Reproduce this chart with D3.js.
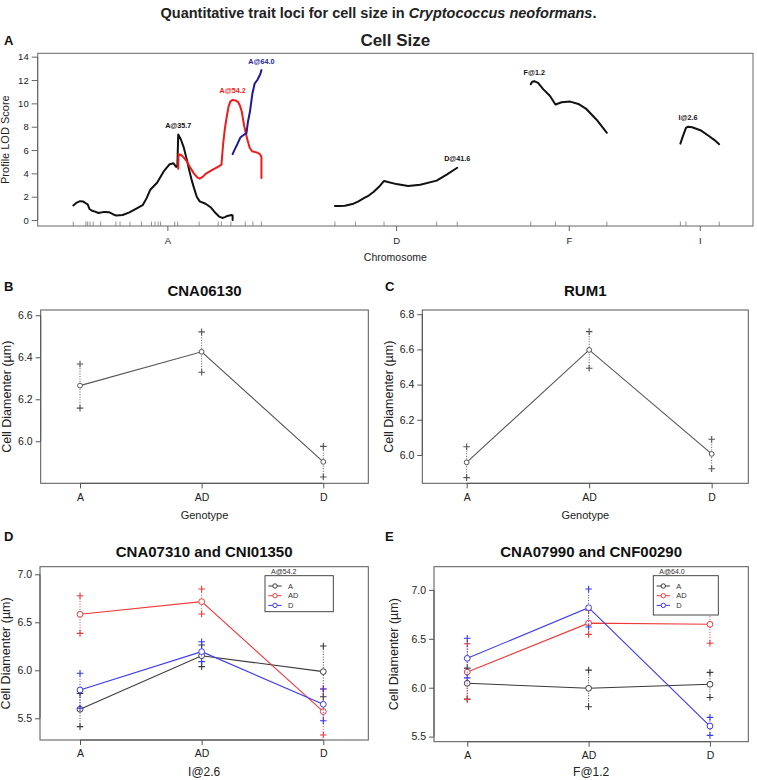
<!DOCTYPE html>
<html><head><meta charset="utf-8">
<script src="https://cdn.jsdelivr.net/npm/d3@7"></script>
<style>
body{margin:0;background:#fff}
text{font-family:"Liberation Sans",Arial,Helvetica,sans-serif;fill:#222}
</style>
</head><body>
<svg id="c" width="757" height="780"></svg>
<script>
// ---------------- DATA ----------------
// Panel A: chromosomes, marker positions (cM) and LOD profiles
const chromosomes = ["A", "D", "F", "I"];
const chromLengths = [64.0, 41.6, 25.9, 13.2];
const chromGap = 25;
const markersA = [0, 4.3, 4.9, 5.7, 6.8, 9.3, 14.5, 15.9, 19.3, 23.2, 26.6, 27.8, 28.9, 29.7, 34.5, 35.5, 42.8, 49.3, 50.4, 53.6, 58.5, 61.1, 64.0];
const markersD = [0, 7.0, 16.7, 34.6, 41.6];
const markersF = [0, 8.4, 25.9];
const markersI = [0, 1.9, 13.2];

const qtlNames = ["A@35.7", "A@54.2", "A@64.0", "D@41.6", "F@1.2", "I@2.6"];
const qtlChrom = ["A", "A", "A", "D", "F", "I"];
const qtlPos = [35.7, 54.2, 64.0, 41.6, 1.2, 2.6];

const profA357Pos = [0, 1.2, 2.3, 3.4, 4.2, 4.9, 5.5, 6.4, 7.4, 8.6, 10.5, 12.3, 13.5, 14.6, 16.8, 19.1, 21.6, 23.6, 25.0, 26.2, 28.5, 30.7, 32.0, 32.8, 34.1, 35.0, 35.4, 35.7, 36.6, 37.6, 38.6, 39.5, 40.3, 41.0, 42.0, 43.0, 45.0, 46.7, 48.4, 49.6, 50.7, 51.6, 52.4, 53.8, 54.2, 54.2];
const profA357Lod = [1.25, 1.5, 1.62, 1.58, 1.45, 1.35, 0.95, 0.8, 0.72, 0.6, 0.7, 0.66, 0.5, 0.38, 0.43, 0.66, 1.0, 1.27, 1.9, 2.6, 3.2, 4.14, 4.55, 4.78, 4.86, 4.55, 4.6, 7.33, 6.9, 6.2, 5.2, 4.2, 3.4, 2.8, 2.0, 1.6, 1.4, 1.1, 0.6, 0.3, 0.18, 0.25, 0.35, 0.43, 0.4, 0.0];

const profA542Pos = [35.7, 35.8, 36.8, 37.6, 38.7, 39.9, 41.0, 42.2, 43.0, 44.0, 45.0, 47.3, 49.5, 50.1, 50.4, 51.0, 51.6, 52.3, 52.8, 53.4, 54.2, 55.2, 56.1, 56.7, 57.3, 58.1, 59.2, 60.0, 60.8, 62.4, 63.5, 64.0, 64.0];
const profA542Lod = [4.4, 5.65, 5.55, 5.35, 5.0, 4.45, 4.0, 3.65, 3.55, 3.7, 3.95, 4.3, 4.6, 4.7, 4.75, 6.6, 7.9, 9.0, 9.7, 10.15, 10.3, 10.25, 10.1, 9.8, 9.3, 8.1, 6.9, 6.2, 5.9, 5.8, 5.65, 5.4, 3.6];

const profA640Pos = [54.2, 55.0, 55.8, 56.9, 58.3, 58.9, 59.4, 60.1, 60.9, 61.7, 62.6, 63.2, 63.6, 64.0];
const profA640Lod = [5.65, 6.1, 6.5, 7.1, 7.35, 7.45, 8.4, 9.3, 10.8, 11.7, 12.0, 12.3, 12.5, 12.85];

const profD416Pos = [0, 1.5, 3.4, 6.3, 8.0, 9.7, 11.5, 13.1, 15.0, 16.7, 20.9, 24.9, 29.0, 34.6, 38.0, 41.6];
const profD416Lod = [1.2, 1.2, 1.22, 1.4, 1.6, 1.85, 2.1, 2.4, 2.85, 3.35, 3.08, 2.92, 3.03, 3.38, 3.9, 4.48];

const profF12Pos = [0, 0.5, 1.2, 2.5, 4.3, 6.5, 8.4, 10.5, 13.4, 16.2, 19.0, 22.4, 25.9];
const profF12Lod = [11.65, 11.85, 11.9, 11.75, 11.2, 10.65, 9.9, 10.1, 10.15, 9.95, 9.5, 8.6, 7.48];

const profI26Pos = [0, 0.8, 1.9, 2.6, 4.0, 6.8, 9.7, 11.6, 13.2];
const profI26Lod = [6.55, 7.15, 7.9, 8.0, 7.95, 7.7, 7.2, 6.85, 6.5];

const lodTicks = [0, 2, 4, 6, 8, 10, 12, 14];

// Panels B-E: genotype effect plots
const genotypes = ["A", "AD", "D"];

const bMean = [6.265, 6.426, 5.902];
const bLow  = [6.158, 6.329, 5.830];
const bHigh = [6.368, 6.521, 5.976];
const bTicks = [6.0, 6.2, 6.4, 6.6];

const cMean = [5.958, 6.597, 6.006];
const cLow  = [5.871, 6.493, 5.922];
const cHigh = [6.047, 6.701, 6.089];
const cTicks = [6.0, 6.2, 6.4, 6.6, 6.8];

// Panel D (x: I@2.6, lines: A@54.2 genotype)
const dMeanA  = [5.594, 6.152, 5.986];
const dLowA   = [5.413, 6.038, 5.725];
const dHighA  = [5.760, 6.264, 6.253];
const dMeanAD = [6.583, 6.715, 5.570];
const dLowAD  = [6.385, 6.586, 5.326];
const dHighAD = [6.777, 6.847, 5.805];
const dMeanD  = [5.795, 6.194, 5.646];
const dLowD   = [5.604, 6.090, 5.475];
const dHighD  = [5.969, 6.298, 5.805];
const dTicks = [5.5, 6.0, 6.5, 7.0];

// Panel E (x: F@1.2, lines: A@64.0 genotype)
const eMeanA  = [6.045, 5.994, 6.035];
const eLowA   = [5.885, 5.806, 5.900];
const eHighA  = [6.200, 6.180, 6.157];
const eMeanAD = [6.160, 6.660, 6.648];
const eLowAD  = [5.880, 6.545, 6.454];
const eHighAD = [6.450, 6.790, 6.846];
const eMeanD  = [6.300, 6.818, 5.608];
const eLowD   = [6.100, 6.620, 5.513];
const eHighD  = [6.505, 7.009, 5.697];
const eTicks = [5.5, 6.0, 6.5, 7.0];

const seriesNames = ["A", "AD", "D"];
const seriesColors = ["#3a3a3a", "#ee3a3a", "#3a3aee"];

// ---------------- DRAWING ----------------
const svg = d3.select("#c");
const FONT = '"Liberation Sans", Arial, Helvetica, sans-serif';

// Figure title
svg.append("text").attr("x", 378.5).attr("y", 18).attr("text-anchor", "middle")
  .style("font-size", "14.5px").style("font-weight", "bold")
  .call(t => {
    t.append("tspan").text("Quantitative trait loci for cell size in ");
    t.append("tspan").style("font-style", "italic").text("Cryptococcus neoformans");
    t.append("tspan").text(".");
  });

function panelLetter(l, x, y) {
  svg.append("text").attr("x", x).attr("y", y).text(l)
    .style("font-size", "13px").style("font-weight", "bold").style("fill", "#111");
}

// ---------- Panel A ----------
(function () {
  const box = {x0: 37.7, x1: 753, y0: 53.3, y1: 226};
  const g = svg.append("g");
  panelLetter("A", 4, 45);
  g.append("text").attr("x", (box.x0 + box.x1) / 2).attr("y", 46).attr("text-anchor", "middle")
    .style("font-size", "17px").style("font-weight", "bold").text("Cell Size");

  const offsets = {};
  let acc = 0;
  chromosomes.forEach((c, i) => { offsets[c] = acc; acc += chromLengths[i] + chromGap; });
  const total = acc - chromGap;
  const x = d3.scaleLinear().domain([-12.1, total + 11.5]).range([box.x0, box.x1]);
  const y = d3.scaleLinear().domain([-0.51, 14.29]).range([box.y1, box.y0]);

  // box
  g.append("rect").attr("x", box.x0).attr("y", box.y0).attr("width", box.x1 - box.x0).attr("height", box.y1 - box.y0)
    .attr("fill", "none").attr("stroke", "#666").attr("stroke-width", 1);

  // y axis
  const yAxis = d3.axisLeft(y).tickValues(lodTicks).tickSize(6).tickPadding(3).tickFormat(d3.format("d"));
  const ya = g.append("g").attr("transform", `translate(${box.x0},0)`).call(yAxis);
  ya.select(".domain").attr("stroke", "#666").attr("d", `M-0,${y(0)}V${y(14)}`);
  ya.selectAll(".tick line").attr("stroke", "#666");
  ya.selectAll(".tick text").style("font-size", "9.5px").style("font-family", FONT).attr("fill", "#222");
  g.append("text").attr("transform", `translate(9,${(box.y0 + box.y1) / 2}) rotate(-90)`)
    .attr("text-anchor", "middle").style("font-size", "11px").text("Profile LOD Score");

  // chromosome ticks & labels
  const chromMid = chromosomes.map((c, i) => offsets[c] + chromLengths[i] / 2);
  const xAxis = d3.axisBottom(x).tickValues(chromMid).tickSize(5).tickPadding(6)
    .tickFormat((d, i) => chromosomes[i]);
  const xa = g.append("g").attr("transform", `translate(0,${box.y1})`).call(xAxis);
  xa.select(".domain").remove();
  xa.selectAll(".tick line").attr("stroke", "#666");
  xa.selectAll(".tick text").style("font-size", "9.5px").style("font-family", FONT).attr("fill", "#222");
  g.append("text").attr("x", (box.x0 + box.x1) / 2).attr("y", 261).attr("text-anchor", "middle")
    .style("font-size", "10.5px").text("Chromosome");

  // marker rug
  const markers = {A: markersA, D: markersD, F: markersF, I: markersI};
  chromosomes.forEach(c => {
    g.append("g").selectAll("line").data(markers[c]).join("line")
      .attr("x1", d => x(offsets[c] + d)).attr("x2", d => x(offsets[c] + d))
      .attr("y1", box.y1).attr("y2", box.y1 - 4.5)
      .attr("stroke", "#777").attr("stroke-width", 0.8);
  });

  // profiles
  const profiles = [
    {chr: "A", pos: profA357Pos, lod: profA357Lod, color: "#111", qi: 0},
    {chr: "A", pos: profA542Pos, lod: profA542Lod, color: "#ee1c1c", qi: 1},
    {chr: "A", pos: profA640Pos, lod: profA640Lod, color: "#1c1c95", qi: 2},
    {chr: "D", pos: profD416Pos, lod: profD416Lod, color: "#111", qi: 3},
    {chr: "F", pos: profF12Pos, lod: profF12Lod, color: "#111", qi: 4},
    {chr: "I", pos: profI26Pos, lod: profI26Lod, color: "#111", qi: 5}
  ];
  const line = d3.line().x(d => x(d[0])).y(d => y(d[1])).curve(d3.curveLinear);
  profiles.forEach(p => {
    const pts = p.pos.map((v, i) => [offsets[p.chr] + v, p.lod[i]]);
    g.append("path").attr("d", line(pts)).attr("fill", "none").attr("stroke", p.color)
      .attr("stroke-width", 2).attr("stroke-linejoin", "round").attr("stroke-linecap", "round");
    const maxLod = d3.max(p.lod);
    g.append("text").attr("x", x(offsets[qtlChrom[p.qi]] + qtlPos[p.qi])).attr("y", y(maxLod) - 6.5)
      .attr("text-anchor", "middle").style("font-size", "7.2px").style("font-weight", "bold")
      .style("fill", p.color).text(qtlNames[p.qi]);
  });
})();

// ---------- Effect panels ----------
function effectPanel(cfg) {
  const g = svg.append("g");
  const b = cfg.box;
  panelLetter(cfg.letter, cfg.letterX, cfg.letterY);
  g.append("text").attr("x", (b.x0 + b.x1) / 2).attr("y", cfg.titleY).attr("text-anchor", "middle")
    .style("font-size", "15px").style("font-weight", "bold").style("fill", "#111").text(cfg.title);

  const x = d3.scaleLinear().domain(cfg.xDomain).range([b.x0, b.x1]);
  const y = d3.scaleLinear().domain(cfg.yDomain).range([b.y1, b.y0]);

  g.append("rect").attr("x", b.x0).attr("y", b.y0).attr("width", b.x1 - b.x0).attr("height", b.y1 - b.y0)
    .attr("fill", "none").attr("stroke", "#555").attr("stroke-width", 1);

  const ya = g.append("g").attr("transform", `translate(${b.x0},0)`)
    .call(d3.axisLeft(y).tickValues(cfg.yTicks).tickSize(5).tickPadding(3).tickFormat(d3.format(".1f")));
  ya.select(".domain").attr("d", `M0,${y(cfg.yTicks[0])}V${y(cfg.yTicks[cfg.yTicks.length - 1])}`).attr("stroke", "#555");
  ya.selectAll(".tick line").attr("stroke", "#555");
  ya.selectAll(".tick text").style("font-size", "10.5px").style("font-family", FONT).attr("fill", "#222");

  const xa = g.append("g").attr("transform", `translate(0,${b.y1})`)
    .call(d3.axisBottom(x).tickValues([1, 2, 3]).tickSize(5).tickPadding(5).tickFormat((d, i) => genotypes[i]));
  xa.select(".domain").attr("d", `M${x(1)},0H${x(3)}`).attr("stroke", "#555");
  xa.selectAll(".tick line").attr("stroke", "#555");
  xa.selectAll(".tick text").style("font-size", "10.5px").style("font-family", FONT).attr("fill", "#222");

  g.append("text").attr("x", (b.x0 + b.x1) / 2).attr("y", cfg.xlabY).attr("text-anchor", "middle")
    .style("font-size", cfg.xlabSize || "11px").text(cfg.xlab);
  g.append("text").attr("transform", `translate(${cfg.ylabX},${(b.y0 + b.y1) / 2}) rotate(-90)`)
    .attr("text-anchor", "middle").attr("dy", "0.35em").style("font-size", "12.5px").text("Cell Diamenter (\u00b5m)");

  cfg.series.forEach(s => {
    const sg = g.append("g");
    // error bars (dotted)
    sg.selectAll("line.err").data(s.mean).join("line").attr("class", "err")
      .attr("x1", (d, i) => x(i + 1)).attr("x2", (d, i) => x(i + 1))
      .attr("y1", (d, i) => y(s.low[i])).attr("y2", (d, i) => y(s.high[i]))
      .attr("stroke", s.color).attr("stroke-width", 1).attr("stroke-dasharray", "1,1.6");
    // connecting line
    sg.append("path").attr("d", d3.line().x((d, i) => x(i + 1)).y(d => y(d))(s.mean))
      .attr("fill", "none").attr("stroke", s.color).attr("stroke-width", 1.1);
    // crosses
    const crosses = [];
    s.mean.forEach((d, i) => { crosses.push([i + 1, s.low[i]]); crosses.push([i + 1, s.high[i]]); });
    sg.selectAll("path.cross").data(crosses).join("path").attr("class", "cross")
      .attr("d", d => `M${x(d[0]) - 3.3},${y(d[1])}h6.6M${x(d[0])},${y(d[1]) - 3.3}v6.6`)
      .attr("stroke", s.color).attr("stroke-width", 1.1).attr("fill", "none");
    // points
    sg.selectAll("circle").data(s.mean).join("circle")
      .attr("cx", (d, i) => x(i + 1)).attr("cy", d => y(d)).attr("r", cfg.r)
      .attr("fill", "#fff").attr("stroke", s.color).attr("stroke-width", 1);
  });

  if (cfg.legend) {
    const L = cfg.legend;
    g.append("rect").attr("x", L.x0).attr("y", L.y0).attr("width", L.x1 - L.x0).attr("height", L.y1 - L.y0)
      .attr("fill", "#fff").attr("stroke", "#333").attr("stroke-width", 0.9);
    g.append("text").attr("x", L.x0 + 6).attr("y", L.y0 - 2).style("font-size", "7px").style("fill", "#333").text(L.title);
    seriesNames.forEach((n, i) => {
      const yy = L.y0 + 10.3 + i * 9.7;
      g.append("line").attr("x1", L.x0 + 3.3).attr("x2", L.x0 + 16.7).attr("y1", yy).attr("y2", yy)
        .attr("stroke", seriesColors[i]).attr("stroke-width", 1);
      g.append("circle").attr("cx", L.x0 + 10).attr("cy", yy).attr("r", 2.2).attr("fill", "#fff")
        .attr("stroke", seriesColors[i]).attr("stroke-width", 1);
      g.append("text").attr("x", L.x0 + 23).attr("y", yy).attr("dy", "0.35em").style("font-size", "7.5px").style("fill", "#333").text(n);
    });
  }
}

effectPanel({
  letter: "B", letterX: 4, letterY: 291, title: "CNA06130", titleY: 296,
  box: {x0: 40.7, x1: 368.3, y0: 310, y1: 483.3}, xDomain: [0.677, 3.37], yDomain: [5.80, 6.625],
  yTicks: bTicks, xlab: "Genotype", xlabY: 519, ylabX: 7, r: 2.4,
  series: [{mean: bMean, low: bLow, high: bHigh, color: "#555"}]
});
effectPanel({
  letter: "C", letterX: 385, letterY: 291, title: "RUM1", titleY: 296,
  box: {x0: 422.3, x1: 748.3, y0: 310, y1: 483.3}, xDomain: [0.638, 3.299], yDomain: [5.839, 6.824],
  yTicks: cTicks, xlab: "Genotype", xlabY: 519, ylabX: 389, r: 2.4,
  series: [{mean: cMean, low: cLow, high: cHigh, color: "#555"}]
});
effectPanel({
  letter: "D", letterX: 4, letterY: 541, title: "CNA07310 and CNI01350", titleY: 557,
  box: {x0: 40, x1: 368.3, y0: 566.7, y1: 740}, xDomain: [0.671, 3.37], yDomain: [5.274, 7.079],
  yTicks: dTicks, xlab: "I@2.6", xlabY: 776, xlabSize: "12px", ylabX: 6, r: 2.9,
  series: [
    {mean: dMeanA, low: dLowA, high: dHighA, color: seriesColors[0]},
    {mean: dMeanAD, low: dLowAD, high: dHighAD, color: seriesColors[1]},
    {mean: dMeanD, low: dLowD, high: dHighD, color: seriesColors[2]}
  ],
  legend: {x0: 265, x1: 333.3, y0: 575.7, y1: 611.7, title: "A@54.2"}
});
effectPanel({
  letter: "E", letterX: 385, letterY: 541, title: "CNA07990 and CNF00290", titleY: 557,
  box: {x0: 434, x1: 748.3, y0: 566.7, y1: 741.7}, xDomain: [0.726, 3.316], yDomain: [5.448, 7.237],
  yTicks: eTicks, xlab: "F@1.2", xlabY: 776, xlabSize: "12px", ylabX: 394, r: 2.9,
  series: [
    {mean: eMeanA, low: eLowA, high: eHighA, color: seriesColors[0]},
    {mean: eMeanAD, low: eLowAD, high: eHighAD, color: seriesColors[1]},
    {mean: eMeanD, low: eLowD, high: eHighD, color: seriesColors[2]}
  ],
  legend: {x0: 653.3, x1: 718.3, y0: 575.7, y1: 615, title: "A@64.0"}
});
</script>
</body></html>
